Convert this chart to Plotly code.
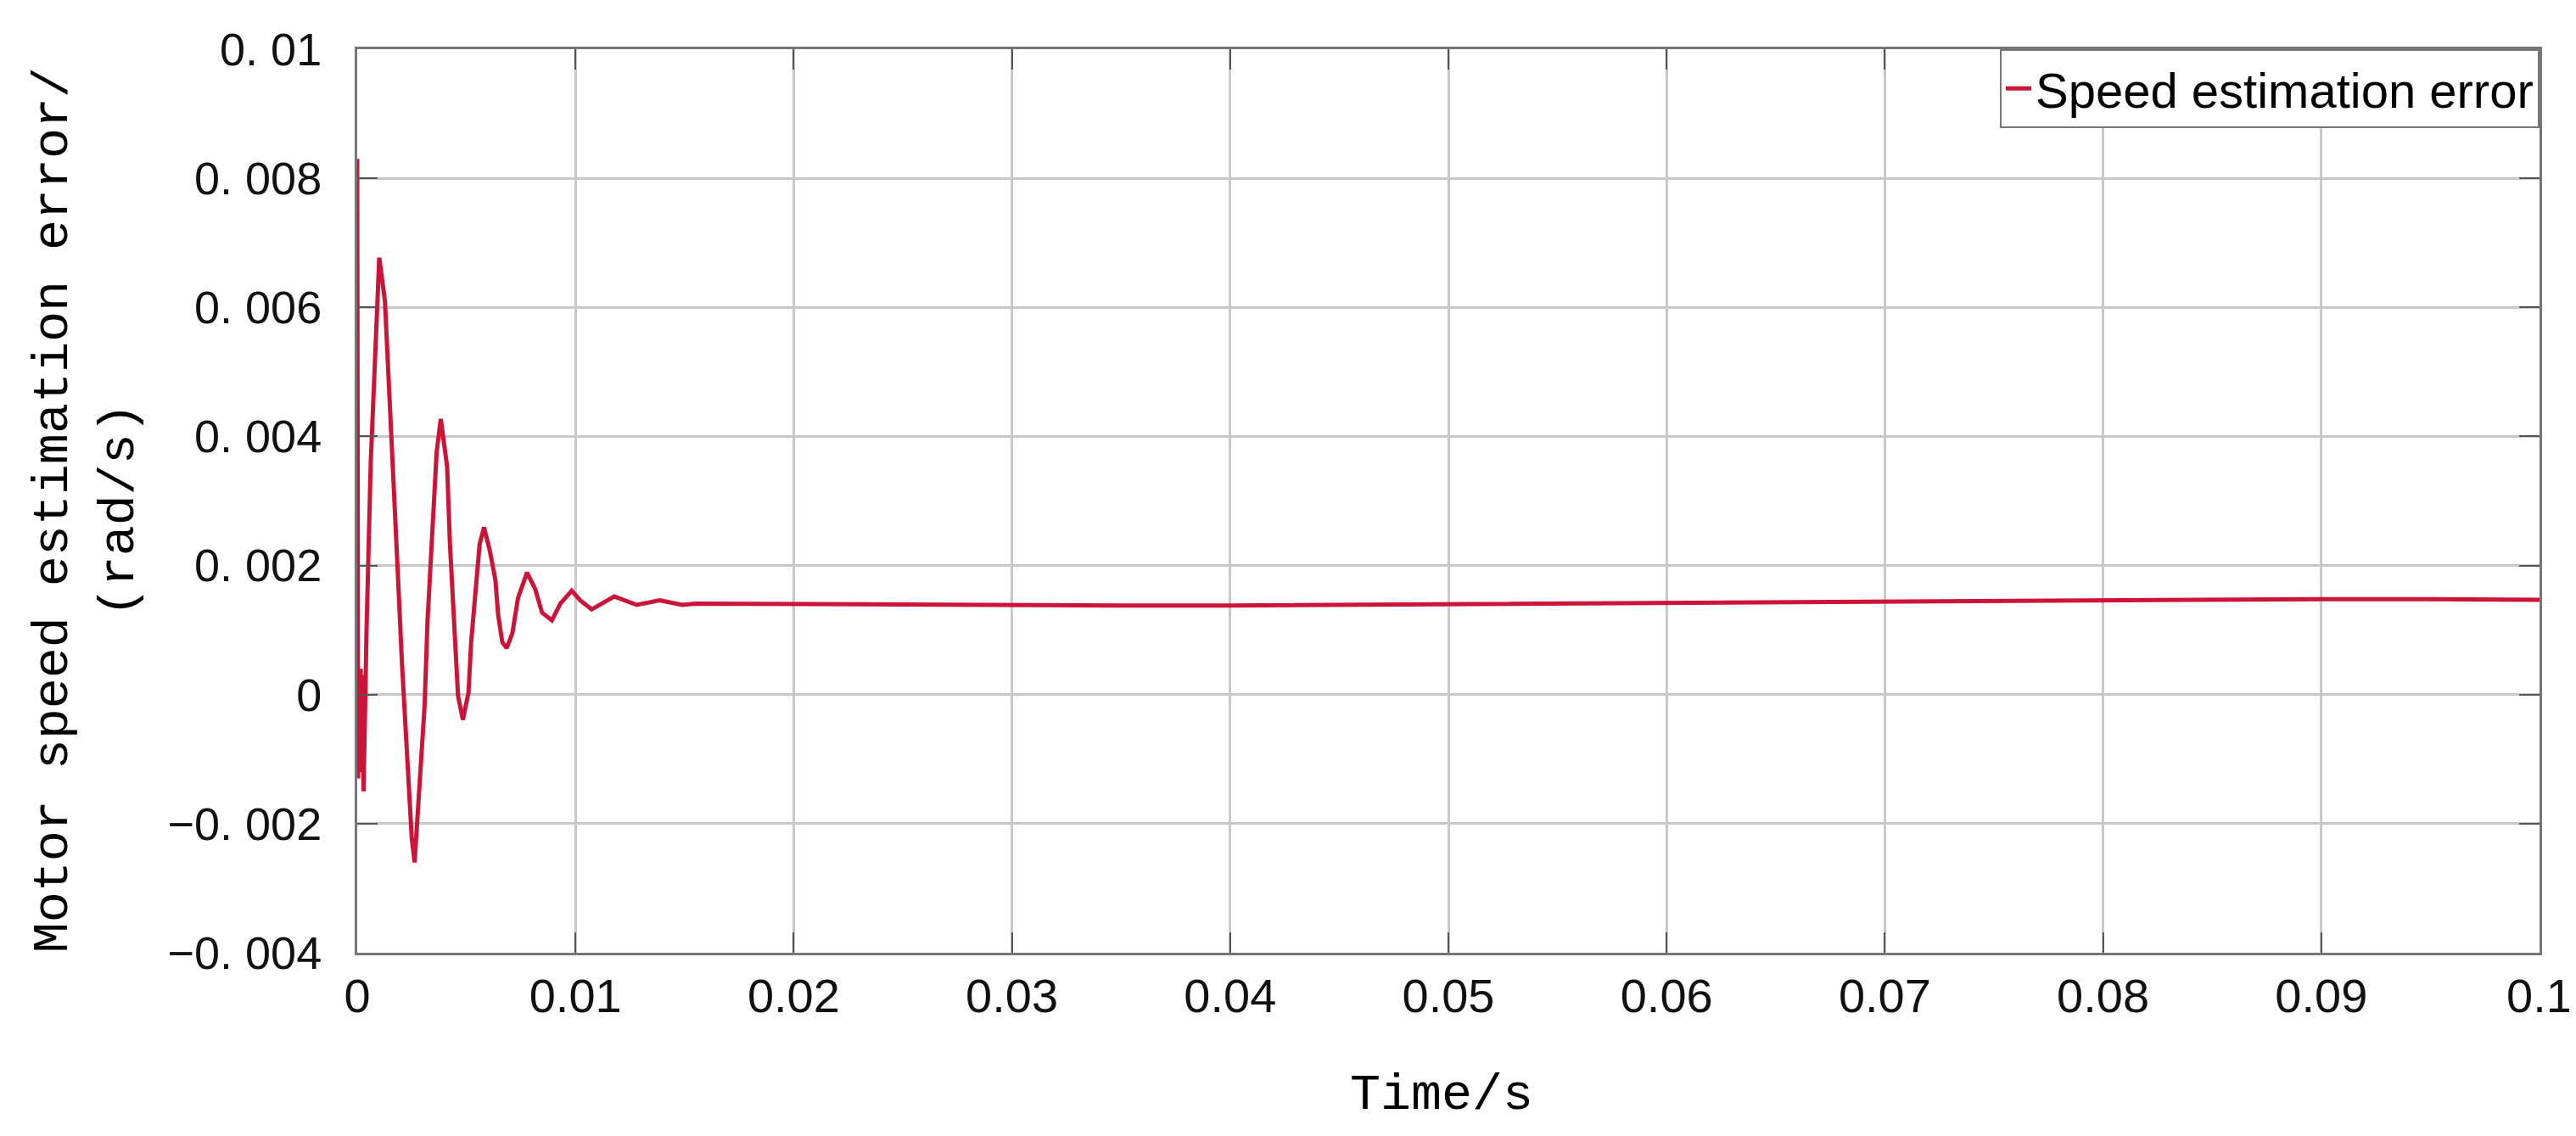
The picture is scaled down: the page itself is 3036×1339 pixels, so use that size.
import plotly.graph_objects as go

# Time (s) and speed estimation error (rad/s)
time_s = [
    0.0, 0.00004, 0.00008, 0.00012, 0.00016, 0.00020, 0.00024, 0.00029,
    0.00043, 0.00062, 0.00086, 0.00101, 0.00127, 0.00146, 0.00166, 0.00185,
    0.00205, 0.00228, 0.00250, 0.00263, 0.00283, 0.00309, 0.00322, 0.00345,
    0.00364, 0.00383, 0.00412, 0.00425, 0.00445, 0.00462, 0.00484, 0.00510,
    0.00522, 0.00542, 0.00561, 0.00581, 0.00607, 0.00633, 0.00646, 0.00665,
    0.00685, 0.00711, 0.00737, 0.00778, 0.00815, 0.00847, 0.00892, 0.00931,
    0.00983, 0.01022, 0.01074, 0.01178, 0.01281, 0.01385, 0.01489, 0.0155,
    0.020, 0.025, 0.030, 0.035, 0.040, 0.045, 0.050, 0.055, 0.060, 0.065,
    0.070, 0.075, 0.080, 0.085, 0.090, 0.095, 0.100,
]
speed_error = [
    0.0083, -0.0013, 0.0004, -0.0012, 0.0004, -0.0011, 0.0003, -0.0015,
    0.00104, 0.0036, 0.00537, 0.00677, 0.0061, 0.00482, 0.00344, 0.00196,
    0.00049, -0.00089, -0.00223, -0.0026, -0.00154, -0.00016, 0.00113, 0.00252,
    0.00376, 0.00427, 0.00353, 0.00233, 0.00104, -0.00002, -0.00039, 0.00003,
    0.00081, 0.00169, 0.00233, 0.00259, 0.00224, 0.00178, 0.00123, 0.00081,
    0.00072, 0.00095, 0.0015, 0.00189, 0.00164, 0.00127, 0.00115, 0.00141,
    0.00161, 0.00146, 0.00132, 0.00152, 0.00139, 0.00146, 0.00139, 0.00141,
    0.0014, 0.00139, 0.00138, 0.00138, 0.00138, 0.00139, 0.0014, 0.00141,
    0.00142, 0.00143, 0.00145, 0.00146, 0.00147, 0.00148, 0.00148, 0.00148,
    0.00147,
]

x_ticks = [0, 0.01, 0.02, 0.03, 0.04, 0.05, 0.06, 0.07, 0.08, 0.09, 0.1]
x_labels = ["0", "0.01", "0.02", "0.03", "0.04", "0.05", "0.06", "0.07", "0.08", "0.09", "0.1"]
y_ticks = [-0.004, -0.002, 0, 0.002, 0.004, 0.006, 0.008, 0.01]
y_labels = ["\u22120. 004", "\u22120. 002", "0", "0. 002", "0. 004", "0. 006", "0. 008", "0. 01"]

LINE_RED = "#cc1438"
FRAME = "#767676"
GRID = "#c8c8c8"
MONO = "Liberation Mono, DejaVu Sans Mono, monospace"
SANS = "Liberation Sans, Arial, sans-serif"

fig = go.Figure()
fig.add_trace(go.Scatter(
    x=time_s,
    y=speed_error,
    mode="lines",
    name="Speed estimation error",
    line={"color": LINE_RED, "width": 5},
))

axis_common = dict(
    showline=True,
    linecolor=FRAME,
    linewidth=3,
    mirror="ticks",
    ticks="inside",
    ticklen=24,
    tickwidth=2,
    tickcolor="#555555",
    showgrid=True,
    gridcolor=GRID,
    gridwidth=2.5,
    zeroline=False,
)

fig.update_xaxes(
    range=[0, 0.1],
    tickvals=x_ticks,
    ticktext=x_labels,
    tickfont={"family": SANS, "size": 56, "color": "#111111"},
    ticklabelstandoff=0,
    **axis_common,
)
fig.update_yaxes(
    range=[-0.004, 0.01],
    tickvals=y_ticks,
    ticktext=y_labels,
    tickfont={"family": SANS, "size": 54, "color": "#111111"},
    ticklabelstandoff=28,
    **axis_common,
)

fig.add_annotation(
    text="Motor speed estimation error/<br>(rad/s)",
    xref="paper", yref="paper",
    x=-0.124, y=0.49,
    xanchor="center", yanchor="middle",
    textangle=-90,
    showarrow=False,
    font={"family": MONO, "size": 60, "color": "#000000"},
)
fig.add_annotation(
    text="Time/s",
    xref="paper", yref="paper",
    x=0.497, y=-0.158,
    xanchor="center", yanchor="middle",
    showarrow=False,
    font={"family": MONO, "size": 60, "color": "#000000"},
)

fig.update_layout(
    width=3036,
    height=1339,
    paper_bgcolor="white",
    plot_bgcolor="white",
    margin={"l": 413, "r": 51, "t": 50, "b": 224},
    showlegend=True,
    legend={
        "x": 1, "y": 1, "xanchor": "right", "yanchor": "top",
        "bgcolor": "white",
        "bordercolor": FRAME,
        "borderwidth": 2,
        "font": {"family": SANS, "size": 58, "color": "#000000"},
        "itemwidth": 30,
        "tracegroupgap": 0,
    },
)

fig.write_html("out.html")
